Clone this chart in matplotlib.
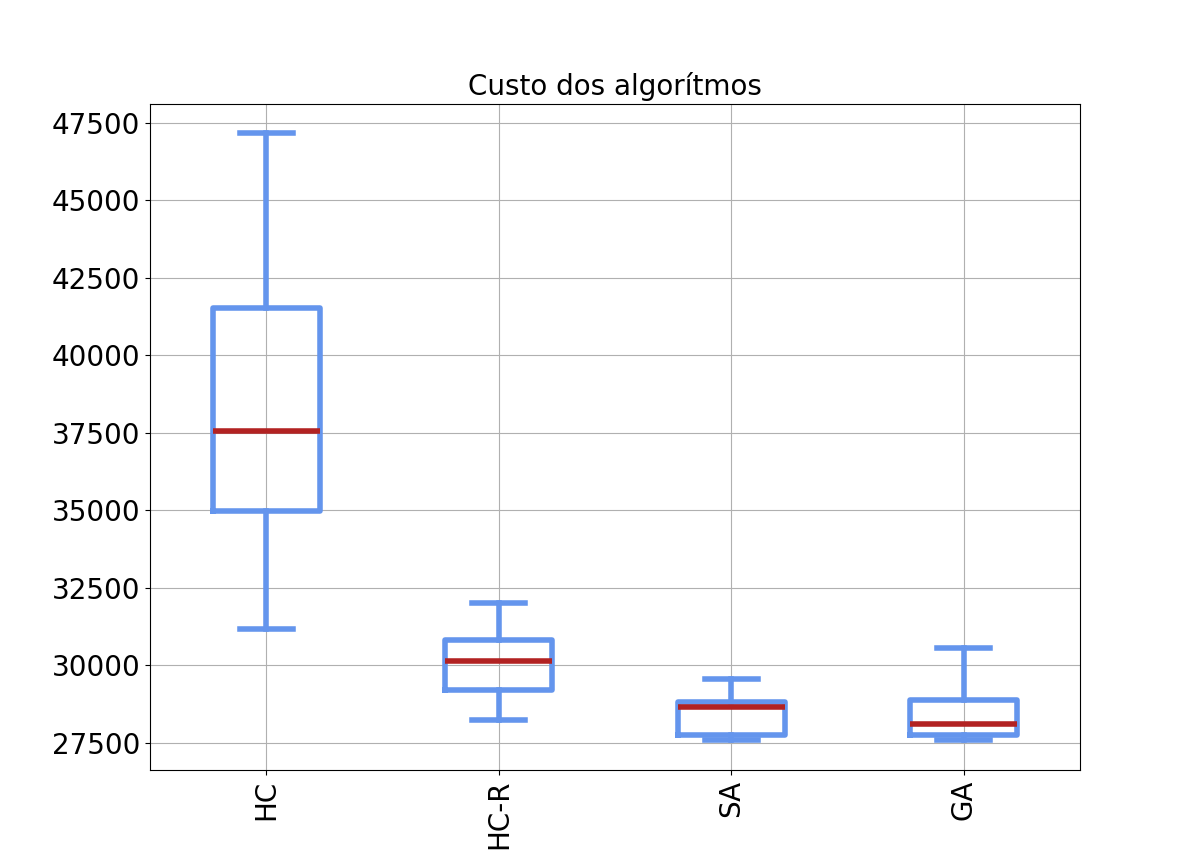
import matplotlib
matplotlib.use("Agg")
import matplotlib.pyplot as plt

labels = ["HC", "HC-R", "SA", "GA"]
whislo = [31177, 28242, 27597, 27597]
q1 = [34984, 29210, 27758, 27758]
med = [37565, 30145, 28661, 28113]
q3 = [41532, 30823, 28823, 28887]
whishi = [47177, 32016, 29565, 30565]

stats = []
for i in range(len(labels)):
    stats.append({"label": labels[i], "whislo": whislo[i], "q1": q1[i],
                  "med": med[i], "q3": q3[i], "whishi": whishi[i], "fliers": []})

fig, ax = plt.subplots(figsize=(12, 8.65), dpi=100)
blue = "cornflowerblue"
ax.bxp(stats, widths=0.46, showfliers=False,
       boxprops=dict(color=blue, linewidth=4),
       whiskerprops=dict(color=blue, linewidth=4),
       capprops=dict(color=blue, linewidth=4),
       medianprops=dict(color="firebrick", linewidth=4))
ax.set_ylim(26629, 48113)
ax.grid(True)
ax.set_title("Custo dos algorítmos", fontsize=20)
ax.tick_params(axis="both", labelsize=20)
plt.setp(ax.get_xticklabels(), rotation=90)
fig.savefig("out.png", dpi=100)
